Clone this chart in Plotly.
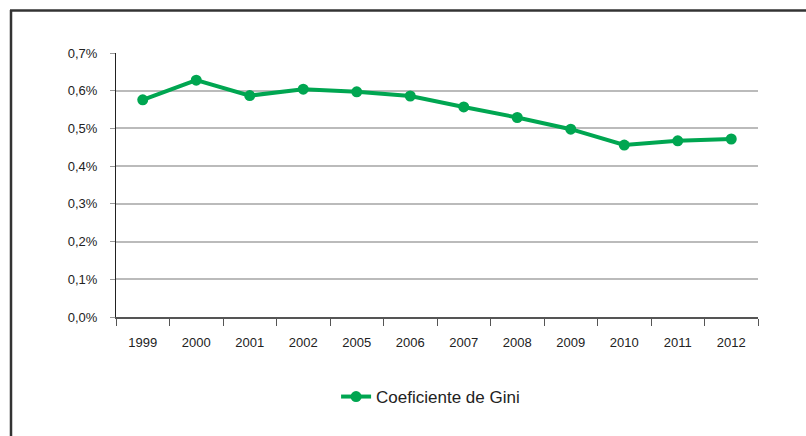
import plotly.graph_objects as go

years = ["1999", "2000", "2001", "2002", "2005", "2006", "2007", "2008", "2009", "2010", "2011", "2012"]
gini = [0.576, 0.628, 0.587, 0.604, 0.597, 0.586, 0.557, 0.529, 0.498, 0.456, 0.467, 0.472]
y_ticks = [0.0, 0.1, 0.2, 0.3, 0.4, 0.5, 0.6, 0.7]
y_tick_text = [f"{v:.1f}%".replace(".", ",") for v in y_ticks]
series_name = "Coeficiente de Gini"

GREEN = "#00A651"
W, H = 806, 436
L, R, T, B = 116, 48, 53, 119
pw = W - L - R
ph = H - T - B

fig = go.Figure()
fig.add_trace(go.Scatter(
    x=years, y=gini, mode="lines+markers", name=series_name,
    line=dict(color=GREEN, width=4),
    marker=dict(color=GREEN, size=11),
))

fx = lambda px: (px - L) / pw
fy = lambda py: (H - B - py) / ph

fig.update_layout(
    width=W, height=H,
    margin=dict(l=L, r=R, t=T, b=B),
    paper_bgcolor="white", plot_bgcolor="white",
    font=dict(family="Liberation Sans, Arial, sans-serif", size=13, color="#222"),
    showlegend=True,
    legend=dict(orientation="h", x=0.49, xanchor="center", y=fy(397), yanchor="middle",
                font=dict(size=17, color="#222")),
    xaxis=dict(
        type="category", range=[-0.5, len(years) - 0.5],
        tickson="boundaries", ticks="outside", ticklen=7,
        tickcolor="#555", showline=True, linecolor="#555", linewidth=1.5,
        showgrid=False, ticklabelstandoff=13, fixedrange=True,
    ),
    yaxis=dict(
        range=[0, 0.7], tickvals=y_ticks, ticktext=y_tick_text,
        ticks="outside", ticklen=5, tickcolor="#999",
        showline=True, linecolor="#222", linewidth=1.2,
        showgrid=True, gridcolor="#BBBBBB", gridwidth=1.5,
        zeroline=False, ticklabelstandoff=10, fixedrange=True,
    ),
    shapes=[
        dict(type="line", xref="paper", yref="paper", x0=fx(10), x1=fx(830), y0=fy(10.5), y1=fy(10.5),
             line=dict(color="#333", width=2.5)),
        dict(type="line", xref="paper", yref="paper", x0=fx(11), x1=fx(11), y0=fy(10), y1=fy(460),
             line=dict(color="#333", width=2.5)),
    ],
)

fig.write_html("out.html", config={"displayModeBar": False},
               post_script="document.body.style.margin='0';document.body.style.overflow='hidden';")
